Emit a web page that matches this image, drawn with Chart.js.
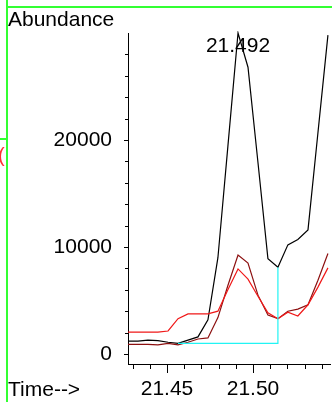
<!DOCTYPE html>
<html>
<head>
<meta charset="utf-8">
<script src="https://cdn.jsdelivr.net/npm/chart.js@4.4.0/dist/chart.umd.min.js"></script>
<style>
html, body { margin: 0; padding: 0; background: #fff; }
#wrap { width: 332px; height: 402px; }
</style>
</head>
<body>
<div id="wrap"><canvas id="chart" width="332" height="402"></canvas></div>
<script>
// retention times (min)
const times = [21.4273, 21.4331, 21.4389, 21.4447, 21.4506, 21.4564, 21.4622, 21.4680, 21.4738, 21.4796,
               21.4854, 21.4913, 21.4971, 21.5029, 21.5087, 21.5145, 21.5203, 21.5261, 21.5320, 21.5378, 21.5436];
// abundance traces
const ticTrace = [1200, 1200, 1300, 1250, 1100, 1000, 1300, 1600, 3200, 9000,
                  19400, 30000, 26800, 17900, 8900, 8100, 10200, 10700, 11600, 20700, 29800];
const ionA = [900, 900, 900, 850, 1000, 850, 1100, 1400, 1500, 3400,
              6400, 9250, 8500, 5500, 3650, 3300, 4000, 4200, 4600, 6900, 9400];
const ionB = [2050, 2050, 2050, 2050, 2150, 3300, 3750, 3750, 3750, 4000,
              6000, 7950, 7000, 5400, 3850, 3300, 3900, 3550, 4600, 6250, 8050];
// integration baseline
const baseTimes = [21.4564, 21.5145, 21.5145];
const baseValues = [1000, 1000, 8100];

const peakIndex = 11;
const peakLabel = '21.492';

const xTicks = [21.43, 21.44, 21.45, 21.46, 21.47, 21.48, 21.49, 21.50, 21.51, 21.52, 21.53, 21.54];
const xMajor = [21.45, 21.50];
const xMajorLabels = ['21.45', '21.50'];
const yTicks = [0, 2000, 4000, 6000, 8000, 10000, 12000, 14000, 16000, 18000, 20000, 22000, 24000, 26000, 28000];
const yMajor = [0, 10000, 20000];

const FONT = '"Liberation Sans", Arial, sans-serif';

function pts(xs, ys) {
    return xs.map((x, i) => ({ x: x, y: ys[i] }));
}

function isMajor(list, v) {
    return list.findIndex(m => Math.abs(m - v) < 1e-6);
}

const decor = {
    id: 'decor',
    afterDraw(chart) {
        const ctx = chart.ctx;
        const xs = chart.scales.x, ys = chart.scales.y;
        const area = chart.chartArea;
        ctx.save();

        // tick marks
        ctx.strokeStyle = '#000';
        ctx.lineWidth = 1;
        ctx.beginPath();
        yTicks.forEach(v => {
            const py = Math.round(ys.getPixelForValue(v)) + 0.5;
            const len = isMajor(yMajor, v) >= 0 ? 4 : 3;
            ctx.moveTo(area.left - len, py);
            ctx.lineTo(area.left, py);
        });
        xTicks.forEach(v => {
            const px = Math.round(xs.getPixelForValue(v)) + 0.5;
            const len = isMajor(xMajor, v) >= 0 ? 9 : 5;
            ctx.moveTo(px, area.bottom);
            ctx.lineTo(px, area.bottom + len);
        });
        ctx.stroke();

        // frame lines
        ctx.strokeStyle = '#33ff33';
        ctx.lineWidth = 2;
        ctx.beginPath();
        ctx.moveTo(7, 0);
        ctx.lineTo(7, 402);
        ctx.moveTo(7, 7);
        ctx.lineTo(332, 7);
        ctx.moveTo(0, 139);
        ctx.lineTo(7, 139);
        ctx.stroke();

        ctx.fillStyle = '#ff3030';
        ctx.font = '20px ' + FONT;
        ctx.textBaseline = 'middle';
        ctx.textAlign = 'left';
        ctx.fillText('(', -2, 156);

        // texts
        ctx.fillStyle = '#000';
        ctx.font = '21px ' + FONT;
        ctx.fillText('Abundance', 8, 20);
        ctx.fillText('Time-->', 8, 390);

        ctx.textAlign = 'center';
        const px = xs.getPixelForValue(times[peakIndex]);
        const py = ys.getPixelForValue(ticTrace[peakIndex]);
        ctx.fillText(peakLabel, px, py + 13);
        ctx.restore();
    }
};

const line = (data, color) => ({
    data: data,
    borderColor: color,
    borderWidth: 1.2,
    pointRadius: 0,
    tension: 0,
    fill: false,
    clip: 2
});

new Chart(document.getElementById('chart').getContext('2d'), {
    type: 'line',
    data: {
        datasets: [
            line(pts(baseTimes, baseValues), '#22f4f4'),
            line(pts(times, ionB), '#f01818'),
            line(pts(times, ionA), '#8c1010'),
            line(pts(times, ticTrace), '#000000')
        ]
    },
    options: {
        responsive: false,
        animation: false,
        devicePixelRatio: 1,
        layout: { padding: { top: 33, right: 2, left: 0, bottom: 0 } },
        plugins: { legend: { display: false }, tooltip: { enabled: false } },
        scales: {
            x: {
                type: 'linear',
                min: 21.4273,
                max: 21.5448,
                afterBuildTicks: s => { s.ticks = xTicks.map(v => ({ value: v })); },
                afterFit: s => { s.height = 38; },
                grid: { display: false },
                border: { display: true, color: '#000', width: 1 },
                ticks: {
                    autoSkip: false,
                    maxRotation: 0,
                    padding: 5,
                    color: '#000',
                    font: { family: FONT, size: 21 },
                    callback: v => {
                        const i = isMajor(xMajor, v);
                        return i >= 0 ? xMajorLabels[i] : '';
                    }
                }
            },
            y: {
                min: -935,
                max: 30000,
                afterBuildTicks: s => { s.ticks = yTicks.map(v => ({ value: v })); },
                afterFit: s => { s.width = 128; },
                grid: { display: false },
                border: { display: true, color: '#000', width: 1 },
                ticks: {
                    autoSkip: false,
                    padding: 8,
                    color: '#000',
                    font: { family: FONT, size: 21 },
                    callback: v => isMajor(yMajor, v) >= 0 ? String(v) : ''
                }
            }
        }
    },
    plugins: [decor]
});
</script>
</body>
</html>
